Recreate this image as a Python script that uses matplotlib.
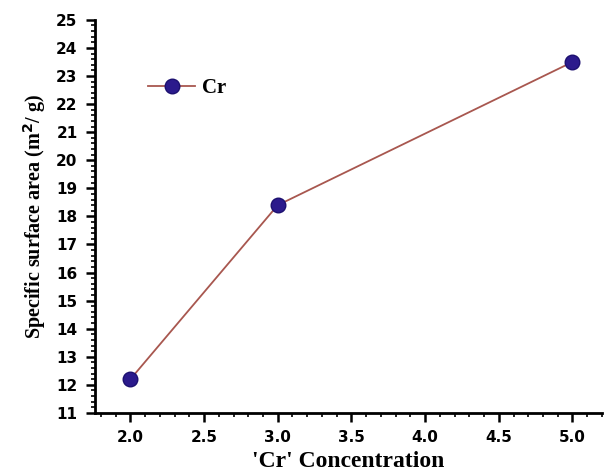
import matplotlib.pyplot as plt
from matplotlib.ticker import MultipleLocator

# data
conc = [2.0, 3.0, 5.0]
area = [12.2, 18.4, 23.5]
series_name = 'Cr'

fig = plt.figure(figsize=(6.05, 4.73), dpi=100)
ax = fig.add_axes([0.157, 0.127, 0.838, 0.831])

ax.plot(conc, area, '-o', color='#a8574f', lw=1.3,
        marker='o', markersize=10.5, markerfacecolor='#2b1a8c',
        markeredgecolor='#1c1070', markeredgewidth=1.0, label=series_name)

ax.set_xlim(1.76, 5.2)
ax.set_ylim(11, 25)
ax.xaxis.set_major_locator(MultipleLocator(0.5))
ax.xaxis.set_minor_locator(MultipleLocator(0.1))
ax.yaxis.set_major_locator(MultipleLocator(1))
ax.yaxis.set_minor_locator(MultipleLocator(0.2))

for s in ['top', 'right']:
    ax.spines[s].set_visible(False)
for s in ['left', 'bottom']:
    ax.spines[s].set_linewidth(2.0)

ax.tick_params(which='major', direction='out', length=6.5, width=1.8, pad=6)
ax.tick_params(which='minor', direction='out', length=3, width=1.2)

for lab in ax.get_xticklabels() + ax.get_yticklabels():
    lab.set_fontfamily('DejaVu Sans')
    lab.set_fontweight('bold')
    lab.set_fontsize(11)

ax.set_xlabel("'Cr' Concentration",
              fontdict={'family': 'Liberation Serif', 'weight': 'bold', 'size': 17}, labelpad=4)
ax.set_ylabel('Specific surface area (m$^{\\mathbf{2}}$/ g)',
              fontdict={'family': 'Liberation Serif', 'weight': 'bold', 'size': 14.5}, labelpad=6)

leg = ax.legend(loc='center left', bbox_to_anchor=(0.068, 0.826), frameon=False,
                handlelength=2.25, handletextpad=0.35, borderpad=0.4,
                prop={'family': 'Liberation Serif', 'weight': 'bold', 'size': 15})

fig.savefig('out.png', dpi=100)
